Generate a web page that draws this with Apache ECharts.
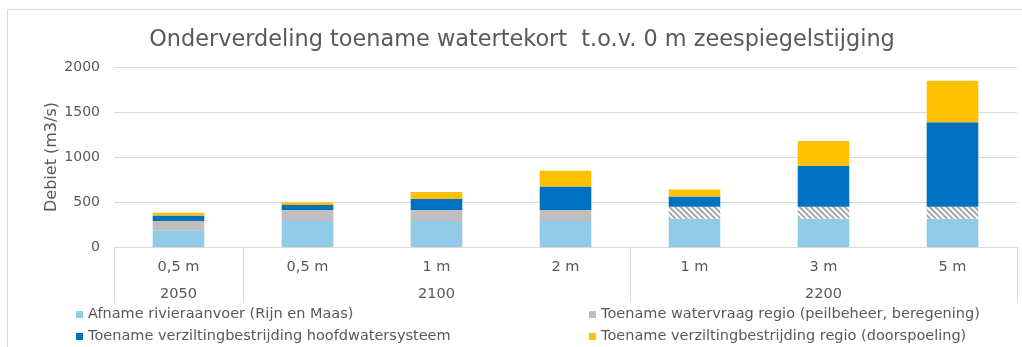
<!DOCTYPE html>
<html>
<head>
<meta charset="utf-8">
<title>Onderverdeling toename watertekort</title>
<script src="https://cdn.jsdelivr.net/npm/echarts@6/dist/echarts.min.js"></script>
<style>
  html, body { margin: 0; padding: 0; background: #fff; overflow: hidden; }
  #frame { position: absolute; left: 7px; top: 9px; width: 1100px; height: 400px; border: 1px solid #d9d9d9; }
  #chart { position: absolute; left: 0; top: 0; width: 1022px; height: 347px; }
</style>
</head>
<body>
<div id="frame"></div>
<div id="chart"></div>
<script>
// Scenario labels (sea level rise) and the year each group belongs to
const scenarios = ['0,5 m', '0,5 m', '1 m', '2 m', '1 m', '3 m', '5 m'];
const yearLabels = ['2050', '', '2100', '', '', '2200', ''];
const groupStarts = [0, 1, 4];
// Indices of the columns where the regional demand is shown hatched
const hatchedColumns = [4, 5, 6];

const seriesNames = [
  'Afname rivieraanvoer (Rijn en Maas)',
  'Toename watervraag regio (peilbeheer, beregening)',
  'Toename verziltingbestrijding hoofdwatersysteem',
  'Toename verziltingbestrijding regio (doorspoeling)'
];

// Flow components in m3/s
const afnameRivier = [185, 290, 290, 290, 315, 315, 315];
const watervraagRegio = [105, 120, 120, 120, 133, 133, 133];
const verziltingHoofd = [60, 56, 122, 263, 114, 455, 937];
const verziltingRegio = [30, 29, 78, 174, 78, 275, 463];

const yTicks = [0, 500, 1000, 1500, 2000];

const colors = ['#92cbe8', '#bfbfbf', '#0070c0', '#ffc000'];
const textColor = '#595959';
const lineColor = '#d9d9d9';
const font = '"DejaVu Sans", sans-serif';

const chart = echarts.init(document.getElementById('chart'), null, { renderer: 'canvas' });

function bar(name, values, color, decorate) {
  return {
    name: name,
    type: 'bar',
    stack: 'total',
    barWidth: '40%',
    itemStyle: { color: color },
    emphasis: { disabled: true },
    data: values.map(function (v, i) {
      if (decorate && hatchedColumns.indexOf(i) >= 0) {
        return {
          value: v,
          itemStyle: {
            color: '#ffffff',
            decal: {
              symbol: 'rect',
              symbolSize: 1,
              color: '#a6a6a6',
              dashArrayX: [1, 0],
              dashArrayY: [2, 2],
              rotation: Math.PI / 4
            }
          }
        };
      }
      return v;
    })
  };
}

// One legend entry per block so the two columns line up
const legendSlots = [
  { name: seriesNames[0], left: 76, top: 307 },
  { name: seriesNames[1], left: 589, top: 307 },
  { name: seriesNames[2], left: 76, top: 329 },
  { name: seriesNames[3], left: 589, top: 329 }
];

chart.setOption({
  animation: false,
  textStyle: { fontFamily: font },
  title: {
    text: 'Onderverdeling toename watertekort  t.o.v. 0 m zeespiegelstijging',
    left: 517,
    textAlign: 'center',
    top: 24,
    textStyle: { color: textColor, fontSize: 22.4, fontWeight: 'normal', fontFamily: font }
  },
  legend: legendSlots.map(function (s) {
    return {
      data: [s.name],
      orient: 'horizontal',
      left: s.left,
      top: s.top,
      padding: 0,
      icon: 'rect',
      itemWidth: 7,
      itemHeight: 7,
      itemGap: 0,
      selectedMode: false,
      textStyle: { color: textColor, fontSize: 14.5, fontFamily: font }
    };
  }),
  grid: { left: 114, right: 5, top: 67, height: 180 },
  xAxis: [
    {
      type: 'category',
      data: scenarios,
      position: 'bottom',
      axisLine: { show: true, lineStyle: { color: lineColor, width: 1 } },
      axisTick: { show: false },
      axisLabel: { interval: 0, margin: 13, color: textColor, fontSize: 14.5, fontFamily: font }
    },
    {
      type: 'category',
      data: yearLabels,
      position: 'bottom',
      axisLine: { show: false },
      axisTick: {
        show: true,
        length: 55,
        interval: function (index) { return groupStarts.indexOf(index) >= 0; },
        lineStyle: { color: lineColor, width: 1 }
      },
      axisLabel: { interval: 0, margin: 40, color: textColor, fontSize: 14.5, fontFamily: font }
    }
  ],
  yAxis: {
    type: 'value',
    min: yTicks[0],
    max: yTicks[yTicks.length - 1],
    interval: yTicks[1] - yTicks[0],
    name: 'Debiet (m3/s)',
    nameLocation: 'middle',
    nameGap: 54,
    nameMoveOverlap: false,
    nameTextStyle: { color: textColor, fontSize: 16, fontFamily: font },
    axisLine: { show: false },
    axisTick: { show: false },
    axisLabel: {
      margin: 14,
      color: textColor,
      fontSize: 14,
      fontFamily: font,
      formatter: function (v) { return String(v); }
    },
    splitLine: { lineStyle: { color: lineColor, width: 1 } }
  },
  series: [
    bar(seriesNames[0], afnameRivier, colors[0], false),
    bar(seriesNames[1], watervraagRegio, colors[1], true),
    bar(seriesNames[2], verziltingHoofd, colors[2], false),
    bar(seriesNames[3], verziltingRegio, colors[3], false)
  ]
});
</script>
</body>
</html>
